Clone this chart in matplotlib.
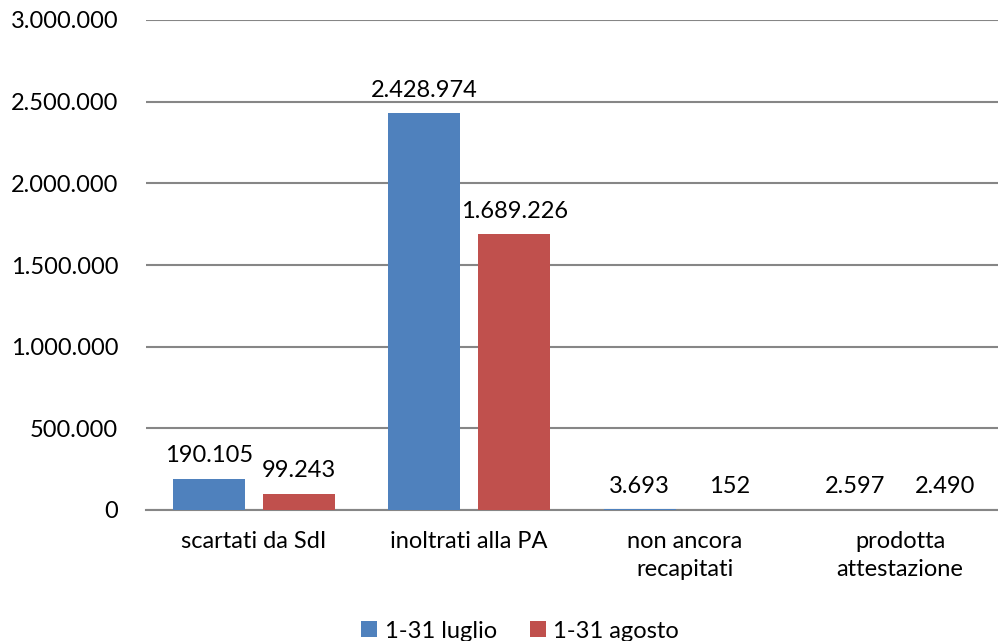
import numpy as np
import matplotlib
matplotlib.use("Agg")
import matplotlib.pyplot as plt

# data
categories = ["scartati da SdI", "inoltrati alla PA", "non ancora\nrecapitati", "prodotta\nattestazione"]
luglio = [190105, 2428974, 3693, 2597]
agosto = [99243, 1689226, 152, 2490]
series_names = ["1-31 luglio", "1-31 agosto"]
y_ticks = [0, 500000, 1000000, 1500000, 2000000, 2500000, 3000000]


def fmt_it(v):
    return f"{v:,}".replace(",", ".")


plt.rcParams['font.family'] = ['Lato', 'DejaVu Sans']
FS = 17

fig = plt.figure(figsize=(9.98, 6.41), dpi=100)
ax = fig.add_axes([146 / 998, 1 - 510 / 641, 852 / 998, 490 / 641])

x = np.arange(len(categories))
w = 0.335
off = 0.209
b1 = ax.bar(x - off, luglio, w, color="#4F81BD", label=series_names[0], zorder=3)
b2 = ax.bar(x + off, agosto, w, color="#C0504D", label=series_names[1], zorder=3)

for bars, vals in ((b1, luglio), (b2, agosto)):
    for rect, v in zip(bars, vals):
        ax.annotate(fmt_it(v), (rect.get_x() + rect.get_width() / 2, rect.get_height()),
                    xytext=(0, 9), textcoords="offset points",
                    ha="center", va="bottom", fontsize=FS, color="black")

ax.set_xlim(-0.5, 3.454)
ax.set_ylim(0, 3000000)
ax.set_yticks(y_ticks)
ax.set_yticklabels([fmt_it(t) for t in y_ticks])
ax.set_xticks(x)
ax.set_xticklabels(categories, linespacing=1.4)

ax.yaxis.grid(True, color="#868686", linewidth=1.5, zorder=0)
ax.set_axisbelow(True)
for s in ("top", "right", "left"):
    ax.spines[s].set_visible(False)
ax.spines["bottom"].set_color("#868686")
ax.spines["bottom"].set_linewidth(1.5)
ax.tick_params(axis="y", length=0, pad=20, labelsize=FS)
ax.tick_params(axis="x", length=0, pad=15, labelsize=FS)

ax.legend(loc="center", bbox_to_anchor=(520 / 998, 1 - 631 / 641),
          bbox_transform=fig.transFigure, ncol=2, frameon=False, fontsize=FS,
          handlelength=0.68, handleheight=0.68, handletextpad=0.3,
          columnspacing=1.4, borderpad=0)

fig.savefig("out.png", dpi=100)
